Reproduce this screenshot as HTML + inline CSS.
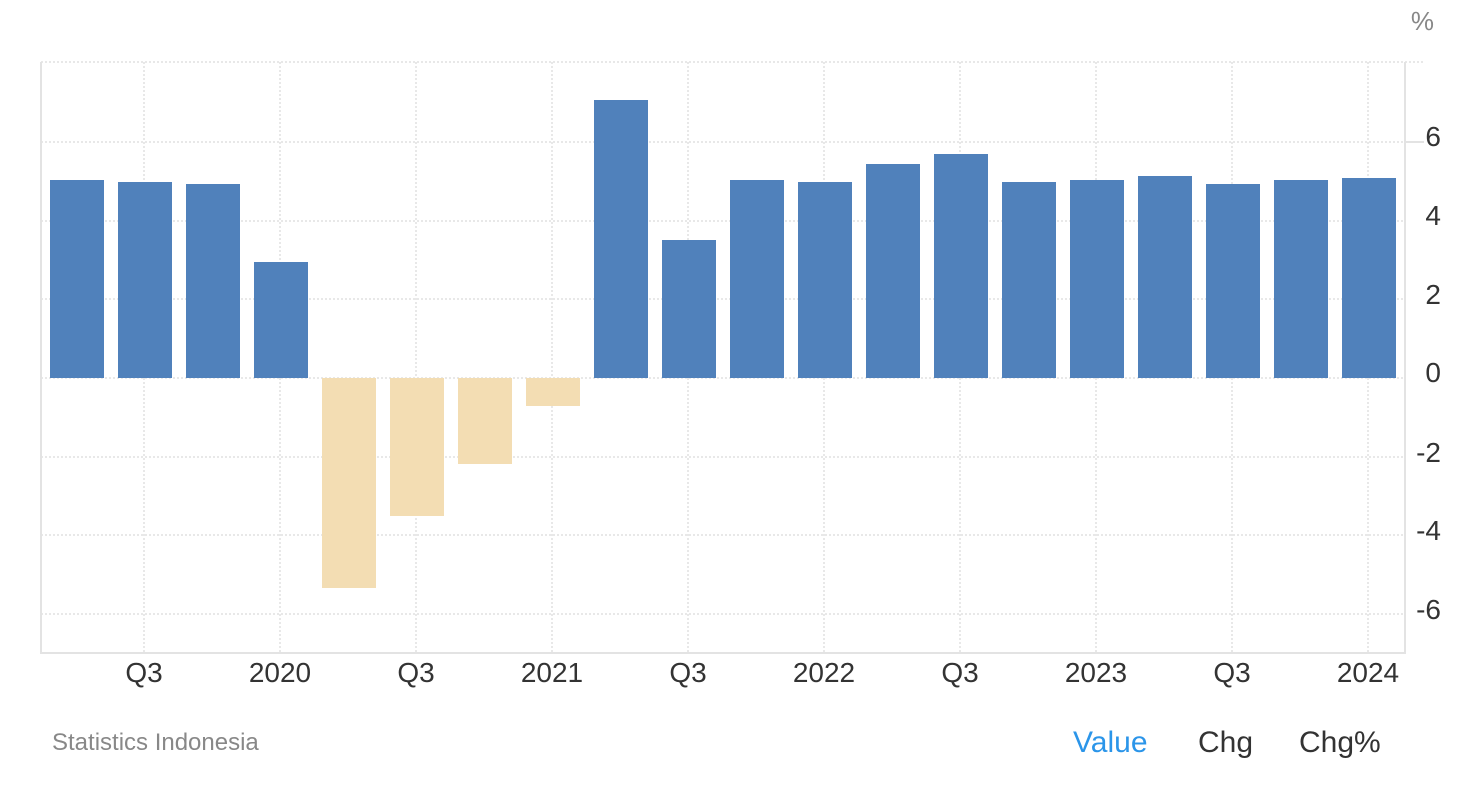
<!DOCTYPE html>
<html><head><style>
html,body{margin:0;padding:0;background:#fff;}
svg{display:block;font-family:"Liberation Sans",Arial,sans-serif;}
</style></head><body>
<svg width="1458" height="790" xmlns="http://www.w3.org/2000/svg">
<g stroke="#e0e0e0" stroke-width="1.5" stroke-dasharray="2,2" fill="none">
<line x1="41" y1="62" x2="1424" y2="62"/>
<line x1="41" y1="142" x2="1405" y2="142"/>
<line x1="41" y1="221" x2="1405" y2="221"/>
<line x1="41" y1="299" x2="1405" y2="299"/>
<line x1="41" y1="378" x2="1405" y2="378"/>
<line x1="41" y1="457" x2="1405" y2="457"/>
<line x1="41" y1="535" x2="1405" y2="535"/>
<line x1="41" y1="614" x2="1405" y2="614"/>
<line x1="144" y1="62" x2="144" y2="652"/><line x1="280" y1="62" x2="280" y2="652"/>
<line x1="416" y1="62" x2="416" y2="652"/><line x1="552" y1="62" x2="552" y2="652"/>
<line x1="688" y1="62" x2="688" y2="652"/><line x1="824" y1="62" x2="824" y2="652"/>
<line x1="960" y1="62" x2="960" y2="652"/><line x1="1096" y1="62" x2="1096" y2="652"/>
<line x1="1232" y1="62" x2="1232" y2="652"/><line x1="1368" y1="62" x2="1368" y2="652"/>
</g>
<g stroke="#e3e3e3" stroke-width="2">
<line x1="41" y1="62" x2="41" y2="653"/>
<line x1="40" y1="653" x2="1406" y2="653"/>
<line x1="1405" y1="62" x2="1405" y2="653"/>
<line x1="1405" y1="142" x2="1424" y2="142"/>
</g>
<g fill="#5081bb">
<rect x="50" y="180" width="54" height="198"/>
<rect x="118" y="182" width="54" height="196"/>
<rect x="186" y="184" width="54" height="194"/>
<rect x="254" y="262" width="54" height="116"/>
<rect x="594" y="100" width="54" height="278"/>
<rect x="662" y="240" width="54" height="138"/>
<rect x="730" y="180" width="54" height="198"/>
<rect x="798" y="182" width="54" height="196"/>
<rect x="866" y="164" width="54" height="214"/>
<rect x="934" y="154" width="54" height="224"/>
<rect x="1002" y="182" width="54" height="196"/>
<rect x="1070" y="180" width="54" height="198"/>
<rect x="1138" y="176" width="54" height="202"/>
<rect x="1206" y="184" width="54" height="194"/>
<rect x="1274" y="180" width="54" height="198"/>
<rect x="1342" y="178" width="54" height="200"/>
</g>
<g fill="#f3ddb3">
<rect x="322" y="378" width="54" height="210"/>
<rect x="390" y="378" width="54" height="138"/>
<rect x="458" y="378" width="54" height="86"/>
<rect x="526" y="378" width="54" height="28"/>
</g>
<g font-size="28" fill="#333" text-anchor="end">
<text x="1441" y="146">6</text>
<text x="1441" y="225">4</text>
<text x="1441" y="304">2</text>
<text x="1441" y="382">0</text>
<text x="1441" y="462">-2</text>
<text x="1441" y="540">-4</text>
<text x="1441" y="619">-6</text>
</g>
<text x="1434" y="30" font-size="26" fill="#888" text-anchor="end">%</text>
<g font-size="28" fill="#333" text-anchor="middle">
<text x="144" y="682">Q3</text><text x="280" y="682">2020</text>
<text x="416" y="682">Q3</text><text x="552" y="682">2021</text>
<text x="688" y="682">Q3</text><text x="824" y="682">2022</text>
<text x="960" y="682">Q3</text><text x="1096" y="682">2023</text>
<text x="1232" y="682">Q3</text><text x="1368" y="682">2024</text>
</g>
<text x="52" y="750" font-size="24" fill="#888">Statistics Indonesia</text>
<text x="1073" y="752" font-size="30" fill="#2b95e9">Value</text>
<text x="1198" y="752" font-size="30" fill="#333">Chg</text>
<text x="1299" y="752" font-size="30" fill="#333">Chg%</text>
</svg>
</body></html>
